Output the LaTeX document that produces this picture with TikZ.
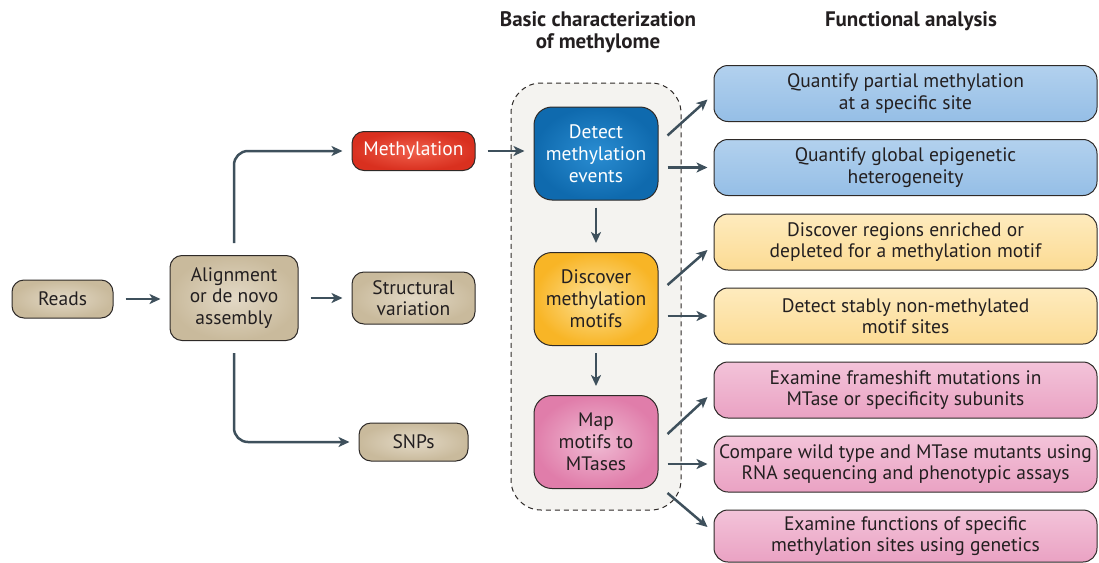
\documentclass[tikz,border=0pt]{standalone}
\usepackage{fontspec}
\setmainfont{PT Sans}
\usetikzlibrary{arrows.meta,calc}
\definecolor{txt}{HTML}{231F20}
\definecolor{edge}{HTML}{2E2A28}
\definecolor{arrc}{HTML}{3E505C}
\definecolor{tanA}{HTML}{E3D9C6}
\definecolor{tanB}{HTML}{C9BA9C}
\definecolor{redA}{HTML}{F0604C}
\definecolor{redB}{HTML}{D9301F}
\definecolor{blueA}{HTML}{2A8DD2}
\definecolor{blueB}{HTML}{0F6AAE}
\definecolor{yelA}{HTML}{FDE39A}
\definecolor{yelB}{HTML}{F8B526}
\definecolor{pinkA}{HTML}{F0BCD4}
\definecolor{pinkB}{HTML}{E07DAA}
\definecolor{rblueA}{HTML}{B2D1EE}
\definecolor{rblueB}{HTML}{95BEE6}
\definecolor{ryelA}{HTML}{FEEBBE}
\definecolor{ryelB}{HTML}{FCDB93}
\definecolor{rpinkA}{HTML}{F3C3D9}
\definecolor{rpinkB}{HTML}{EAA2C3}
\definecolor{contfill}{HTML}{F4F3F0}
\begin{document}
\begin{tikzpicture}[x=1pt,y=-1pt,
  box/.style={draw=edge, line width=1pt, align=center, inner sep=0pt, text=txt,
    font=\fontsize{19.5}{21.5}\selectfont},
  tanbox/.style={box, rounded corners=12pt, inner color=tanA, outer color=tanB},
  redbox/.style={box, rounded corners=12pt, inner color=redA, outer color=redB, text=white},
  midbox/.style={box, rounded corners=18pt, minimum width=124, minimum height=93,
    font=\fontsize{19.5}{22}\selectfont},
  bluebox/.style={midbox, inner color=blueA, outer color=blueB, text=white},
  yelbox/.style={midbox, inner color=yelA, outer color=yelB},
  pinkbox/.style={midbox, inner color=pinkA, outer color=pinkB},
  rbox/.style={box, rounded corners=14pt, minimum width=383, minimum height=56},
  rblue/.style={rbox, top color=rblueA, bottom color=rblueB},
  ryel/.style={rbox, top color=ryelA, bottom color=ryelB},
  rpink/.style={rbox, top color=rpinkA, bottom color=rpinkB},
  cont/.style={draw=edge, line width=1pt, dash pattern=on 5pt off 4pt,
    rounded corners=30pt, fill=contfill, minimum width=170, minimum height=427, inner sep=0pt},
  head/.style={align=center, text=txt, font=\bfseries\fontsize{21}{22}\selectfont},
  arr/.style={draw=arrc, line width=2.5pt, -{Stealth[length=11pt,width=10pt,inset=3pt]}},
  sarr/.style={arr, shorten <=12pt, shorten >=9pt}
]
\useasboundingbox (0,0) rectangle (1099,562);

% headers
\node[head] (h1) at (598,32) {Basic characterization\\of methylome};
\node[head] (h2) at (911,21) {Functional analysis};

% container
\node[cont] (cont) at (596,296.5) {};

% left
\node[tanbox, minimum width=101, minimum height=38] (reads) at (62.5,299) {Reads};
\node[tanbox, minimum width=128, minimum height=85] (align) at (234,298) {Alignment\\or de novo\\assembly};
\node[redbox, minimum width=123, minimum height=39] (meth) at (413.5,151) {Methylation};
\node[tanbox, minimum width=123, minimum height=52] (sv) at (413.5,298) {Structural\\variation};
\node[tanbox, minimum width=109, minimum height=38] (snp) at (413.5,442) {SNPs};

% middle
\node[bluebox] (det) at (596,153.5) {Detect\\methylation\\events};
\node[yelbox] (dis) at (596,299) {Discover\\methylation\\motifs};
\node[pinkbox] (map) at (596,442) {Map\\motifs to\\MTases};

% right
\node[rblue] (r1) at (905.5,93.5) {Quantify partial methylation\\at a specific site};
\node[rblue] (r2) at (905.5,167.5) {Quantify global epigenetic\\heterogeneity};
\node[ryel] (r3) at (905.5,242) {Discover regions enriched or\\depleted for a methylation motif};
\node[ryel] (r4) at (905.5,316) {Detect stably non-methylated\\motif sites};
\node[rpink] (r5) at (905.5,390) {Examine frameshift mutations in\\MTase or specificity subunits};
\node[rpink] (r6) at (905.5,464) {Compare wild type and MTase mutants using\\RNA sequencing and phenotypic assays};
\node[rpink, minimum height=52] (r7) at (905.5,536) {Examine functions of specific\\methylation sites using genetics};

% connectors
\draw[sarr] (reads.east) -- (reads.east -| align.west);
\draw[sarr] (align.east) -- (align.east -| sv.west);
\draw[sarr, rounded corners=14pt] (align.north) |- (meth.west);
\draw[sarr, rounded corners=14pt] (align.south) |- (snp.west);
\draw[sarr] (meth.east) -- (meth.east -| det.west);
\draw[arr, shorten <=7pt, shorten >=9pt] (det.south) -- (dis.north);
\draw[arr, shorten <=7pt, shorten >=9pt] (dis.south) -- (map.north);

\draw[arr] ($(det.east)+(9,-18)$) -- ($(r1.west)+(-6,6)$);
\draw[arr, shorten <=9pt, shorten >=6pt] (det.east |- r2.west) -- (r2.west);
\draw[arr] ($(dis.east)+(9,-14)$) -- ($(r3.west)+(-6,8)$);
\draw[arr, shorten <=9pt, shorten >=6pt] (dis.east |- r4.west) -- (r4.west);
\draw[arr] ($(map.east)+(9,-8)$) -- ($(r5.west)+(-6,7)$);
\draw[arr, shorten <=9pt, shorten >=6pt] (map.east |- r6.west) -- (r6.west);
\draw[arr] ($(map.east)+(9,51)$) -- ($(r7.west)+(-6,-9)$);
\end{tikzpicture}
\end{document}
